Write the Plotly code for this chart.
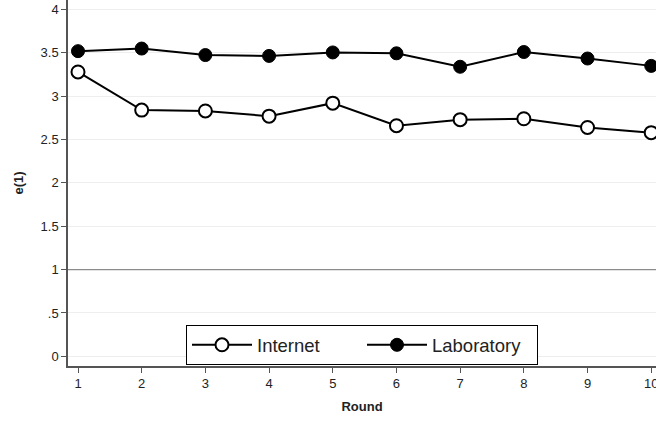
import plotly.graph_objects as go

rounds = [1, 2, 3, 4, 5, 6, 7, 8, 9, 10]
internet = [3.28, 2.84, 2.83, 2.77, 2.92, 2.66, 2.73, 2.74, 2.64, 2.58]
laboratory = [3.52, 3.55, 3.475, 3.465, 3.505, 3.495, 3.34, 3.51, 3.435, 3.35]
ytick_vals = [0, 0.5, 1, 1.5, 2, 2.5, 3, 3.5, 4]
ytick_text = ["0", ".5", "1", "1.5", "2", "2.5", "3", "3.5", "4"]
ref_line_y = 1

FONT = "Liberation Sans, Arial, sans-serif"

fig = go.Figure()
fig.add_trace(go.Scatter(
    x=rounds, y=internet, mode="lines+markers", name="Internet",
    line=dict(color="black", width=2),
    marker=dict(symbol="circle", size=13, color="white", line=dict(color="black", width=2)),
    cliponaxis=False,
))
fig.add_trace(go.Scatter(
    x=rounds, y=laboratory, mode="lines+markers", name="Laboratory",
    line=dict(color="black", width=2),
    marker=dict(symbol="circle", size=13, color="black", line=dict(color="black", width=1)),
    cliponaxis=False,
))

fig.add_hline(y=ref_line_y, line=dict(color="#8c8c8c", width=1.3), layer="above")

fig.update_layout(
    width=656, height=421,
    margin=dict(l=68, r=0, t=0, b=55, autoexpand=False),
    paper_bgcolor="white", plot_bgcolor="white",
    font=dict(family=FONT, color="#222222"),
    showlegend=True,
    legend=dict(
        orientation="h", x=0.5, xanchor="center", y=0.002, yanchor="bottom",
        bgcolor="white", bordercolor="black", borderwidth=1,
        font=dict(size=18.5, color="#222222"), itemwidth=60,
        entrywidth=100, entrywidthmode="pixels",
        traceorder="normal",
    ),
)
fig.update_xaxes(
    range=[0.843, 10.075], tickvals=rounds, ticktext=[str(r) for r in rounds],
    showgrid=False, zeroline=False, showline=True, linecolor="#555555", linewidth=1.5,
    ticks="outside", ticklen=5, tickcolor="#555555", tickfont=dict(size=13),
    ticklabeloverflow="allow", automargin=False,
    title=dict(text="<b>Round</b>", font=dict(size=13), standoff=12),
)
fig.update_yaxes(
    range=[-0.112, 4.11], tickvals=ytick_vals, ticktext=ytick_text,
    showgrid=True, gridcolor="#eeeeee", gridwidth=1.2, zeroline=False,
    showline=True, linecolor="#555555", linewidth=1.5,
    ticks="outside", ticklen=5, tickcolor="#555555", tickfont=dict(size=13),
    automargin=False,
    title=dict(text="<b>e(1)</b>", font=dict(size=13), standoff=14),
)

fig.write_html("out.html", config={"displayModeBar": False},
               post_script="document.body.style.margin='0';")
